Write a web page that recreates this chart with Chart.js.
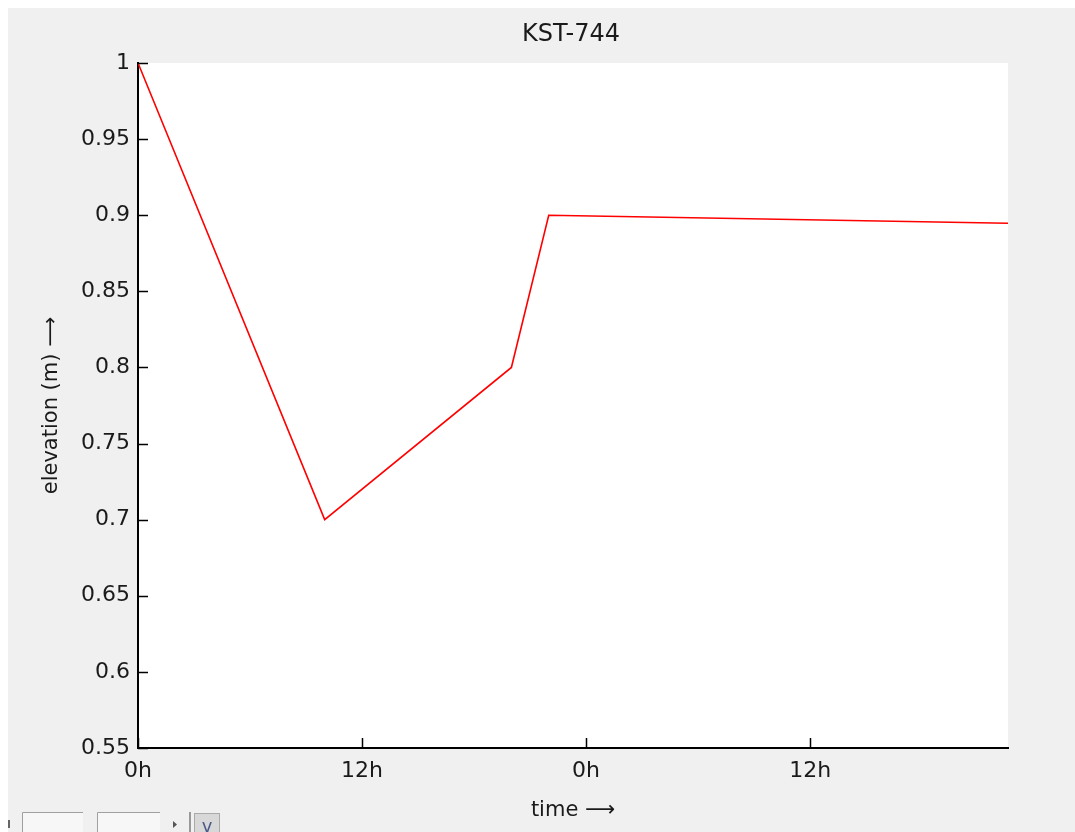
<!DOCTYPE html>
<html>
<head>
<meta charset="utf-8">
<title>KST-744</title>
<script src="https://cdn.jsdelivr.net/npm/chart.js@4.4.1/dist/chart.umd.min.js"></script>
<style>
  html, body { margin: 0; padding: 0; background: #fff; }
  canvas { display: block; }
</style>
</head>
<body>
<canvas id="elevChart" width="1075" height="832"></canvas>
<script>
// ------------------ Data ------------------
const chartTitle = 'KST-744';
const hours = [0, 10, 20, 22, 46.6];
const elevation = [1.0, 0.70, 0.80, 0.90, 0.8947];
const xTickHours = [0, 12, 24, 36];
const xTickLabels = ['0h', '12h', '0h', '12h'];
const yTickValues = [0.55, 0.6, 0.65, 0.7, 0.75, 0.8, 0.85, 0.9, 0.95, 1];
const yTickLabels = ['0.55', '0.6', '0.65', '0.7', '0.75', '0.8', '0.85', '0.9', '0.95', '1'];

// ------------------ Layout ------------------
const W = 1075, H = 832;
const plotLeft = 138, plotRight = 1008, plotTop = 63, plotBottom = 748;
const FONT = 'DejaVu Sans';
const BG = '#f0f0f0';

// figure background: thin white border, grey panel, white plot area
const figureBackground = {
    id: 'figureBackground',
    beforeDraw(chart) {
        const {ctx, chartArea} = chart;
        ctx.save();
        ctx.fillStyle = '#ffffff';
        ctx.fillRect(0, 0, W, H);
        ctx.fillStyle = BG;
        ctx.fillRect(8, 8, W - 8, H - 8);
        ctx.fillStyle = '#ffffff';
        ctx.fillRect(chartArea.left, chartArea.top,
                     chartArea.right - chartArea.left, chartArea.bottom - chartArea.top);
        ctx.restore();
    }
};

// inward tick marks like the original plot
const innerTicks = {
    id: 'innerTicks',
    afterDraw(chart) {
        const {ctx, chartArea, scales} = chart;
        ctx.save();
        ctx.strokeStyle = '#000';
        ctx.lineWidth = 1.5;
        ctx.beginPath();
        yTickValues.forEach(v => {
            const y = Math.round(scales.y.getPixelForValue(v)) + 0.5;
            ctx.moveTo(chartArea.left, y);
            ctx.lineTo(chartArea.left + 10, y);
        });
        xTickHours.forEach(h => {
            const x = Math.round(scales.x.getPixelForValue(h)) + 0.5;
            ctx.moveTo(x, chartArea.bottom);
            ctx.lineTo(x, chartArea.bottom - 10);
        });
        ctx.stroke();
        ctx.restore();
    }
};

// title above the axes
const figureTitle = {
    id: 'figureTitle',
    afterDraw(chart) {
        const {ctx, chartArea} = chart;
        ctx.save();
        ctx.font = '24px "' + FONT + '"';
        ctx.fillStyle = '#1a1a1a';
        ctx.textAlign = 'center';
        ctx.textBaseline = 'middle';
        ctx.fillText(chartTitle, (chartArea.left + chartArea.right) / 2 - 2, 35);
        ctx.restore();
    }
};

// the little window controls in the lower left corner
const windowWidgets = {
    id: 'windowWidgets',
    afterDraw(chart) {
        const {ctx} = chart;
        ctx.save();
        ctx.fillStyle = '#666';
        ctx.fillRect(8, 820, 2, 8);
        [[22, 83], [97, 160]].forEach(([a, b]) => {
            ctx.fillStyle = '#f7f7f7';
            ctx.fillRect(a, 812, b - a, 20);
            ctx.strokeStyle = '#a0a0a0';
            ctx.lineWidth = 1;
            ctx.beginPath();
            ctx.moveTo(a + 0.5, H);
            ctx.lineTo(a + 0.5, 812.5);
            ctx.lineTo(b, 812.5);
            ctx.stroke();
        });
        ctx.fillStyle = '#555';
        ctx.beginPath();
        ctx.moveTo(173, 821);
        ctx.lineTo(177, 824.5);
        ctx.lineTo(173, 828);
        ctx.fill();
        ctx.fillStyle = '#999';
        ctx.fillRect(189, 812, 2, 20);
        ctx.fillStyle = '#d8d8d8';
        ctx.fillRect(194, 813, 26, 19);
        ctx.strokeStyle = '#aaa';
        ctx.strokeRect(194.5, 813.5, 25, 19);
        ctx.font = '18px "' + FONT + '"';
        ctx.fillStyle = '#4a5a8a';
        ctx.textAlign = 'center';
        ctx.textBaseline = 'top';
        ctx.fillText('v', 207, 818);
        ctx.restore();
    }
};

const ctx = document.getElementById('elevChart').getContext('2d');

new Chart(ctx, {
    type: 'line',
    data: {
        datasets: [{
            label: chartTitle,
            data: hours.map((h, i) => ({x: h, y: elevation[i]})),
            borderColor: '#ff0000',
            borderWidth: 1.6,
            pointRadius: 0,
            tension: 0,
            fill: false
        }]
    },
    options: {
        responsive: false,
        animation: false,
        layout: {
            padding: {top: plotTop, right: W - plotRight, left: 0, bottom: 0}
        },
        plugins: {
            legend: { display: false },
            tooltip: { enabled: false },
            title: { display: false }
        },
        scales: {
            x: {
                type: 'linear',
                min: 0,
                max: 46.6,
                afterFit(scale) { scale.height = H - plotBottom; },
                afterBuildTicks(scale) { scale.ticks = xTickHours.map(v => ({value: v})); },
                grid: { drawOnChartArea: false, drawTicks: false },
                border: { display: true, color: '#000', width: 2 },
                ticks: {
                    padding: 10,
                    color: '#1a1a1a',
                    font: { family: FONT, size: 22 },
                    callback: (v, i) => xTickLabels[i]
                },
                title: {
                    display: true,
                    text: 'time \u27F6',
                    color: '#1a1a1a',
                    font: { family: FONT, size: 21 },
                    padding: { top: 0, bottom: 9 }
                }
            },
            y: {
                type: 'linear',
                min: 0.55,
                max: 1,
                afterFit(scale) { scale.width = plotLeft; },
                afterBuildTicks(scale) { scale.ticks = yTickValues.map(v => ({value: v})); },
                grid: { drawOnChartArea: false, drawTicks: false },
                border: { display: true, color: '#000', width: 2 },
                ticks: {
                    padding: 8,
                    color: '#1a1a1a',
                    font: { family: FONT, size: 22 },
                    callback: (v, i) => yTickLabels[i]
                },
                title: {
                    display: true,
                    text: 'elevation (m) \u27F6',
                    color: '#1a1a1a',
                    font: { family: FONT, size: 21 },
                    padding: { top: 39, bottom: 0 }
                }
            }
        }
    },
    plugins: [figureBackground, innerTicks, figureTitle, windowWidgets]
});
</script>
</body>
</html>
